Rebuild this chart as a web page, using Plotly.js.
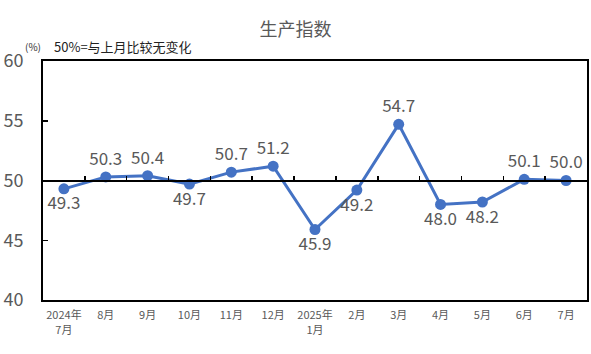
<!DOCTYPE html>
<html>
<head>
<meta charset="utf-8">
<script src="https://cdn.plot.ly/plotly-3.0.1.min.js"></script>
<style>html,body{margin:0;padding:0;background:#fff;}#chart{width:591px;height:354px;}</style>
</head>
<body>
<div id="chart"></div>
<script>
const categories = ["2024年<br>7月","8月","9月","10月","11月","12月","2025年<br>1月","2月","3月","4月","5月","6月","7月"];
const values = [49.3, 50.3, 50.4, 49.7, 50.7, 51.2, 45.9, 49.2, 54.7, 48.0, 48.2, 50.1, 50.0];
const labelPos = ["bottom center","top center","top center","bottom center","top center","top center","bottom center","bottom center","top center","bottom center","bottom center","top center","top center"];
const yTicks = [40, 45, 50, 55, 60];

const xIdx = categories.map((c, i) => i);
const font = "Noto Sans CJK SC, Noto Sans, sans-serif";

const trace = {
  type: "scatter",
  mode: "lines+markers+text",
  x: xIdx,
  y: values,
  text: values.map(v => v.toFixed(1)),
  textposition: labelPos,
  textfont: {family: font, size: 17, color: "#595959"},
  line: {color: "#4472C4", width: 3},
  marker: {color: "#4472C4", size: 11},
  cliponaxis: false,
  hoverinfo: "skip"
};
const ref = {type: "scatter", x: [0], y: [50], xaxis: "x2", mode: "none", showlegend: false, hoverinfo: "skip"};

const layout = {
  width: 591, height: 354,
  margin: {l: 43, r: 4, t: 61, b: 54},
  paper_bgcolor: "#fff", plot_bgcolor: "#fff",
  showlegend: false,
  title: {text: "生产指数", x: 0.5, xanchor: "center", y: 0.915, yanchor: "middle",
          font: {family: font, size: 18, color: "#595959"}},
  xaxis: {
    type: "linear", range: [-0.5, 12.5],
    tickvals: xIdx, ticktext: categories,
    tickfont: {family: font, size: 11, color: "#595959"},
    showgrid: false, zeroline: false,
    showline: true, linecolor: "#000", linewidth: 2, mirror: true,
    ticks: "", ticklabelstandoff: 4
  },
  xaxis2: {
    overlaying: "x", matches: "x", anchor: "free", position: 0.5, side: "bottom",
    range: [-0.5, 12.5],
    tickvals: xIdx.slice(0, 12).map(i => i + 0.5),
    showticklabels: false, ticks: "inside", ticklen: 4, tickwidth: 1.5, tickcolor: "#000",
    showgrid: false, zeroline: false,
    showline: true, linecolor: "#000", linewidth: 2
  },
  yaxis: {
    range: [40, 60], tickvals: yTicks,
    tickfont: {family: font, size: 18, color: "#595959"},
    showgrid: false, zeroline: false,
    showline: true, linecolor: "#000", linewidth: 2, mirror: true,
    ticks: "inside", ticklen: 5, tickwidth: 1.5, tickcolor: "#000",
    ticklabelstandoff: 14
  },
  annotations: [
    {xref: "paper", yref: "paper", x: -0.037, y: 1.062, xanchor: "left", yanchor: "middle",
     text: "(%)", showarrow: false, font: {family: font, size: 10, color: "#333"}},
    {xref: "paper", yref: "paper", x: 0.016, y: 1.06, xanchor: "left", yanchor: "middle",
     text: "50%=与上月比较无变化", showarrow: false, font: {family: font, size: 13, color: "#222"}}
  ]
};

Plotly.newPlot("chart", [ref, trace], layout, {displayModeBar: false, staticPlot: true});
</script>
</body>
</html>
